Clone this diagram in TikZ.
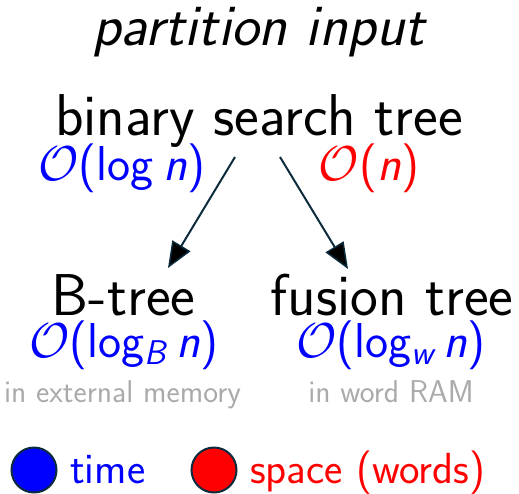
\documentclass[tikz,border=0pt]{standalone}
\usepackage{fix-cm}
\usepackage{fontspec}
\usetikzlibrary{arrows.meta}
\definecolor{edgecol}{HTML}{0C2C3E}
\definecolor{notecol}{HTML}{AAAAAA}
\newcommand\lsp{\hspace{0.2em}}
\tikzset{
  title/.style={anchor=base, inner sep=0pt, font=\sffamily\fontsize{59}{64}\selectfont},
  cost/.style={anchor=base, inner sep=0pt, font=\sffamily\fontsize{49}{54}\selectfont},
  model/.style={anchor=base, inner sep=0pt, text=notecol, font=\sffamily\fontsize{31.5}{34}\selectfont},
  legend/.style={anchor=base west, inner sep=0pt, font=\sffamily\fontsize{43.5}{46}\selectfont},
  reduction/.style={draw=edgecol, line width=2pt,
    -{Triangle[length=26pt,width=21pt,fill=black,line width=1.5pt]}},
  swatch/.style={circle, draw=edgecol, line width=2pt, minimum size=45pt, inner sep=0pt}
}
\begin{document}
\begin{tikzpicture}[x=1pt,y=-1pt]
  \useasboundingbox (0,0) rectangle (519,493);
  % headline
  \node[title, font=\sffamily\itshape\fontsize{59}{64}\selectfont] (head) at (258.5,45) {partition input};
  % source structure and its costs
  \node[title] (bst) at (259,135) {binary search tree};
  \node[cost, text=blue] (bsttime) at (122,180) {$\mathcal{O}$(log\lsp\textit{n})};
  \node[cost, text=red] (bstspace) at (369,180) {$\mathcal{O}$(\textit{n})};
  % target structures
  \node[title] (btree) at (123.5,315) {B-tree};
  \node[title] (ftree) at (392,315) {fusion tree};
  \node[cost, text=blue] (btime) at (124,357) {$\mathcal{O}$(log\textsubscript{\itshape B}\lsp\textit{n})};
  \node[cost, text=blue] (ftime) at (391,357) {$\mathcal{O}$(log\textsubscript{\itshape w}\lsp\textit{n})};
  \node[model] (bmodel) at (122.5,402) {in external memory};
  \node[model] (fmodel) at (391,402) {in word RAM};
  % reductions
  \coordinate (l0) at (235,157);
  \coordinate (l1) at (168,268);
  \coordinate (r0) at (280,157);
  \coordinate (r1) at (348,269);
  \draw[reduction] (l0) -- (l1);
  \draw[reduction] (r0) -- (r1);
  % legend
  \node[swatch, fill=blue] (tkey) at (34,470) {};
  \node[legend, text=blue] (tlabel) at (70,483) {time};
  \node[swatch, fill=red] (skey) at (214,470) {};
  \node[legend, text=red] (slabel) at (250,483) {space (words)};
\end{tikzpicture}
\end{document}
